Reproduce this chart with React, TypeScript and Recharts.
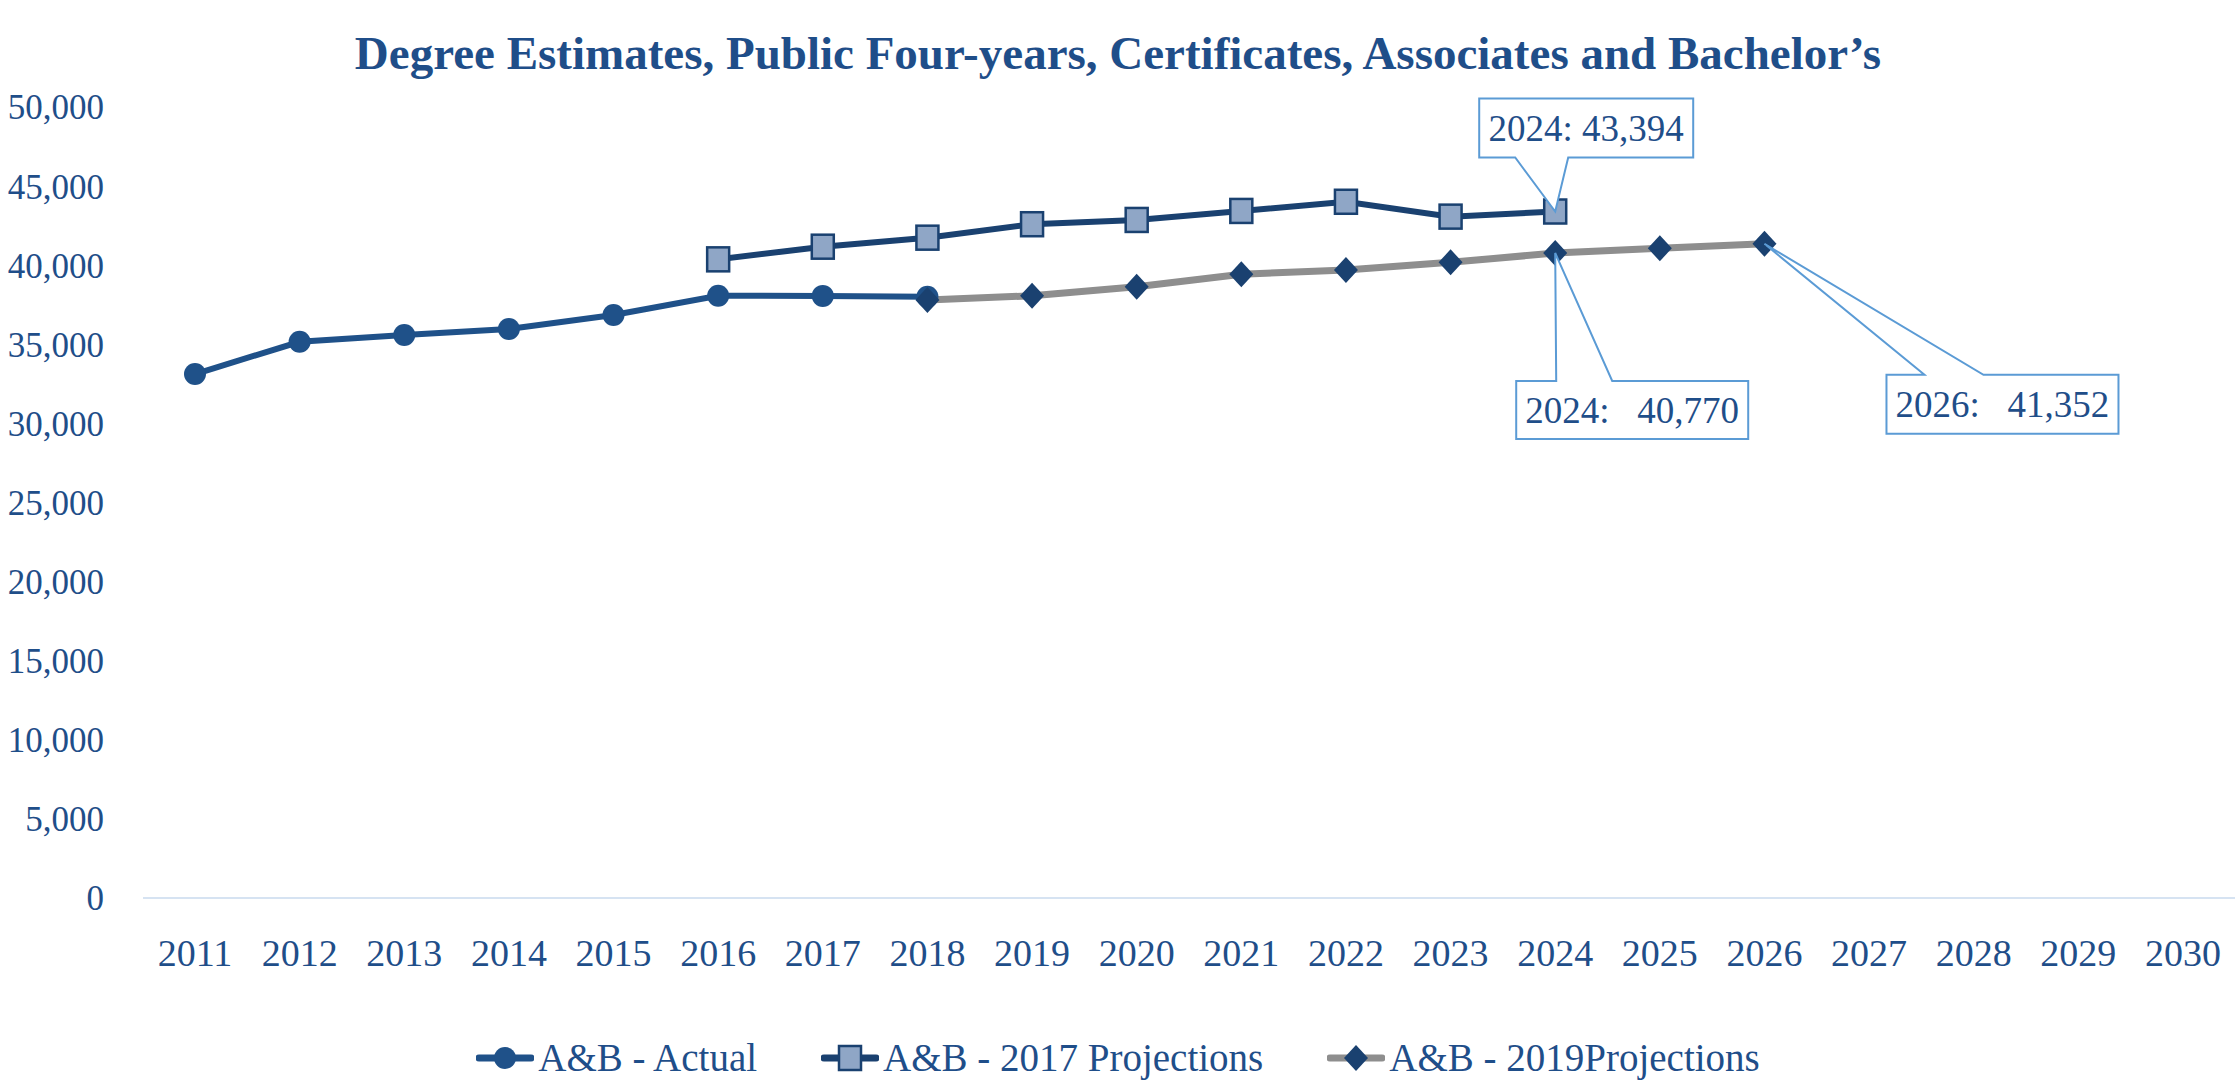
import React from "react";
import {
  LabelList,
  Legend,
  Line,
  LineChart,
  XAxis,
  YAxis,
} from "recharts";

const years = [
  "2011", "2012", "2013", "2014", "2015", "2016", "2017", "2018", "2019", "2020",
  "2021", "2022", "2023", "2024", "2025", "2026", "2027", "2028", "2029", "2030",
];
const actual = [33120, 35160, 35590, 35970, 36850, 38070, 38060, 38000, null, null,
  null, null, null, null, null, null, null, null, null, null];
const proj2017 = [null, null, null, null, null, 40370, 41170, 41740, 42590, 42860,
  43430, 44010, 43070, 43394, null, null, null, null, null, null];
const proj2019 = [null, null, null, null, null, null, null, 37800, 38070, 38640,
  39430, 39700, 40180, 40770, 41070, 41352, null, null, null, null];
const yTicks = [0, 5000, 10000, 15000, 20000, 25000, 30000, 35000, 40000, 45000, 50000];

const data = years.map((year, i) => ({
  year,
  actual: actual[i],
  p2017: proj2017[i],
  p2019: proj2019[i],
}));

const TEXT = "#1F4E89";
const FONT = "'Liberation Serif', 'Times New Roman', serif";
const BLUE = "#1F5189";
const NAVY = "#1A4170";
const SQUARE_FILL = "#8FA6C6";
const GRAY = "#8E8E8E";
const CALLOUT = "#5B9BD5";

// callout boxes: offsets from the data point
const callouts = [
  { series: "p2017", year: "2024", sep: " ", box: [-76, -113, 214, 59], wedge: [-40, 13], side: "bottom" },
  { series: "p2019", year: "2024", sep: "   ", box: [-39, 128, 232, 58], wedge: [1, 57], side: "top" },
  { series: "p2019", year: "2026", sep: "   ", box: [122, 131, 232, 59], wedge: [160, 219], side: "top" },
];

const circleDot = (props: any) => {
  const { cx, cy, value, index } = props;
  if (value == null || cx == null) return <g key={index} />;
  return <circle key={index} cx={cx} cy={cy} r={11} fill={BLUE} />;
};

const squareDot = (props: any) => {
  const { cx, cy, value, index } = props;
  if (value == null || cx == null) return <g key={index} />;
  return (
    <rect key={index} x={cx - 11} y={cy - 12} width={22} height={24}
      fill={SQUARE_FILL} stroke={NAVY} strokeWidth={2.5} />
  );
};

const diamondDot = (props: any) => {
  const { cx, cy, value, index } = props;
  if (value == null || cx == null) return <g key={index} />;
  return (
    <path key={index} d={`M${cx},${cy - 13} L${cx + 12},${cy} L${cx},${cy + 13} L${cx - 12},${cy} Z`}
      fill={NAVY} />
  );
};

const makeCallout = (series: string) => (props: any) => {
  const { x, y, value, index } = props;
  const year = years[index];
  const c = callouts.find((k) => k.series === series && k.year === year);
  if (!c || value == null) return null;
  const [l, t, w, h] = c.box;
  const left = x + l;
  const top = y + t;
  const right = left + w;
  const bottom = top + h;
  const b1 = x + c.wedge[0];
  const b2 = x + c.wedge[1];
  const d =
    c.side === "bottom"
      ? `M${left},${top} H${right} V${bottom} H${b2} L${x},${y} L${b1},${bottom} H${left} Z`
      : `M${left},${top} H${b1} L${x},${y} L${b2},${top} H${right} V${bottom} H${left} Z`;
  return (
    <g>
      <path d={d} fill="#fff" stroke={CALLOUT} strokeWidth={2} />
      <text x={left + w / 2} y={top + h / 2} dy="0.34em" textAnchor="middle"
        fill={TEXT} fontSize={37} fontFamily={FONT} style={{ whiteSpace: "pre" }}>
        {`${year}:${c.sep}${Number(value).toLocaleString("en-US")}`}
      </text>
    </g>
  );
};

const legendItems = [
  { label: "A&B - Actual", line: BLUE, icon: "circle" },
  { label: "A&B - 2017 Projections", line: NAVY, icon: "square" },
  { label: "A&B - 2019Projections", line: GRAY, icon: "diamond" },
];

const renderLegend = () => (
  <div
    style={{
      display: "flex", justifyContent: "center", gap: 64, fontFamily: FONT,
      fontSize: 39, lineHeight: "44px", color: TEXT,
    }}
  >
    {legendItems.map((it) => (
      <div key={it.label} style={{ display: "flex", alignItems: "center" }}>
        <svg width={58} height={30} style={{ marginRight: 4 }}>
          <line x1={3} y1={15} x2={55} y2={15} stroke={it.line} strokeWidth={7} strokeLinecap="round" />
          {it.icon === "circle" && <circle cx={29} cy={15} r={11} fill={BLUE} />}
          {it.icon === "square" && (
            <rect x={18} y={3} width={22} height={24} fill={SQUARE_FILL} stroke={NAVY} strokeWidth={2.5} />
          )}
          {it.icon === "diamond" && <path d="M29,2 L41,15 L29,28 L17,15 Z" fill={NAVY} />}
        </svg>
        <span>{it.label}</span>
      </div>
    ))}
  </div>
);

export default function App() {
  return (
    <div style={{ position: "absolute", left: 0, top: 0, width: 2236, height: 1085, background: "#fff" }}>
      <div
        style={{
          position: "absolute", left: 0, top: 30, width: 2236, textAlign: "center",
          fontFamily: FONT, fontWeight: "bold", fontSize: 47, lineHeight: "47px", color: TEXT,
        }}
      >
        Degree Estimates, Public Four-years, Certificates, Associates and Bachelor’s
      </div>
      <LineChart width={2236} height={1085} data={data}
        margin={{ top: 107, right: 1, bottom: 53, left: 0 }}>
        <XAxis dataKey="year" padding={{ left: 52, right: 52 }} tickLine={false}
          tickSize={0} tickMargin={41} height={90} interval={0}
          axisLine={{ stroke: "#D6E3F2", strokeWidth: 2 }}
          tick={{ fill: TEXT, fontSize: 38, fontFamily: FONT }} />
        <YAxis domain={[0, 50000]} ticks={yTicks} width={143} axisLine={false}
          tickLine={false} tickSize={0} tickMargin={39}
          tickFormatter={(v: number) => v.toLocaleString("en-US")}
          tick={{ fill: TEXT, fontSize: 35, fontFamily: FONT }} />
        <Legend content={renderLegend} verticalAlign="bottom"
          wrapperStyle={{ top: 1036, left: 0, width: 2236, height: 44, bottom: "auto" }} />
        <Line dataKey="actual" stroke={BLUE} strokeWidth={6} dot={circleDot}
          activeDot={false} isAnimationActive={false} />
        <Line dataKey="p2017" stroke={NAVY} strokeWidth={6} dot={squareDot}
          activeDot={false} isAnimationActive={false}>
          <LabelList dataKey="p2017" content={makeCallout("p2017")} />
        </Line>
        <Line dataKey="p2019" stroke={GRAY} strokeWidth={7} dot={diamondDot}
          activeDot={false} isAnimationActive={false}>
          <LabelList dataKey="p2019" content={makeCallout("p2019")} />
        </Line>
      </LineChart>
    </div>
  );
}
